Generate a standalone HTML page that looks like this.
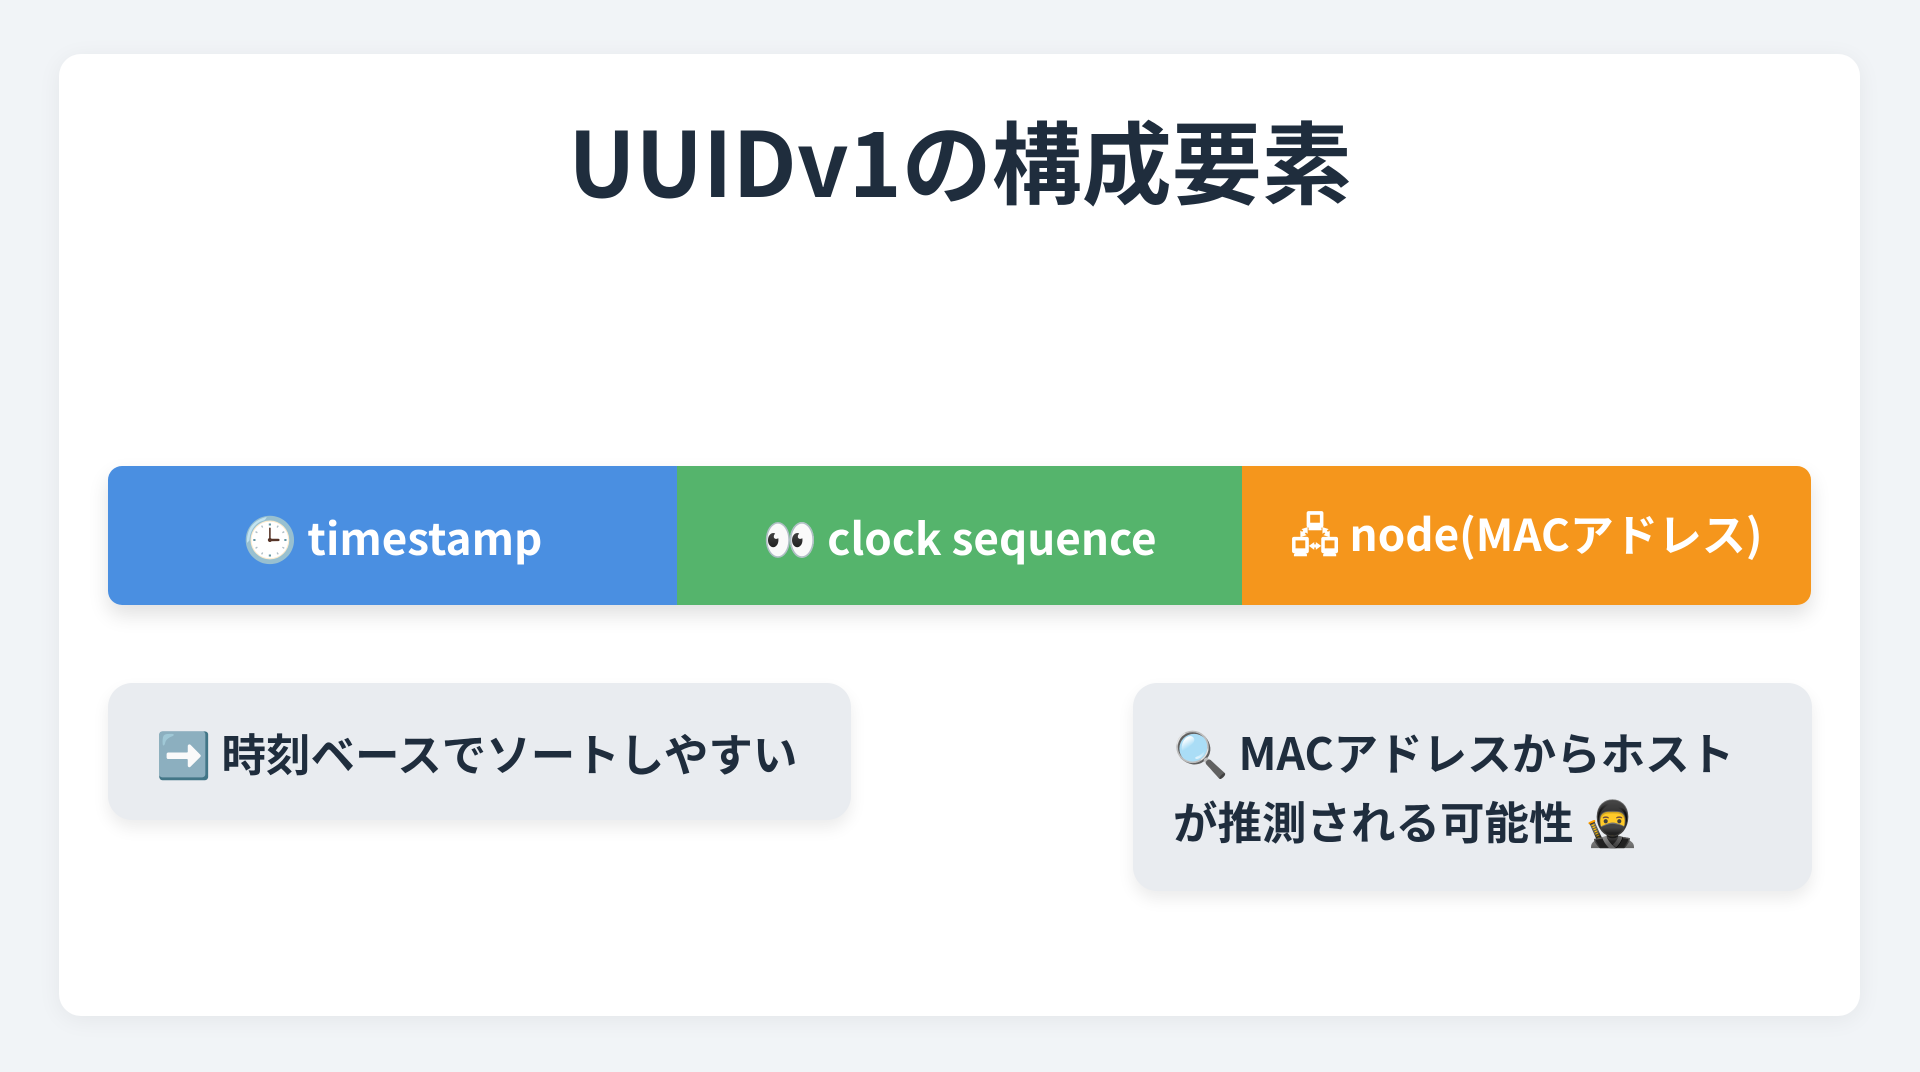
<!DOCTYPE html>
<html><head><meta charset="utf-8"><style>
body{margin:0;width:1920px;height:1072px;background:#f1f4f7;font-family:"Liberation Sans","Noto Sans CJK JP",sans-serif;position:relative;overflow:hidden}
.card{position:absolute;left:59px;top:54px;width:1801px;height:962px;background:#fff;border-radius:22px;box-shadow:0 4px 24px rgba(0,0,0,.06)}
h1{position:absolute;left:0;width:1920px;top:98px;margin:0;text-align:center;font-family:"Noto Sans CJK JP",sans-serif;font-weight:700;font-size:90px;line-height:120px;color:#1f2d3d}
.bar{position:absolute;left:108px;top:466px;width:1703px;height:139px;border-radius:14px;overflow:hidden;display:flex;box-shadow:0 10px 20px rgba(0,0,0,.12)}
.bar div{display:flex;align-items:center;justify-content:center;color:#fff;font-family:"Noto Sans CJK JP",sans-serif;font-weight:700;font-size:44px}
.box{position:absolute;background:#e9ecf0;border-radius:24px;box-shadow:0 8px 16px rgba(0,0,0,.08);font-family:"Noto Sans CJK JP",sans-serif;font-weight:700;font-size:44.5px;color:#1f2d3d;line-height:69px}
</style></head><body>
<div class="card"></div>
<h1>UUIDv1の構成要素</h1>
<div class="bar">
<div style="width:569px;background:#4a8fe1">🕒 timestamp</div>
<div style="width:565px;background:#55b46c">👀 clock sequence</div>
<div style="width:569px;background:#f5961c"><span style="position:relative;top:4px">🖧 node(MACアドレス)</span></div>
</div>
<div class="box" style="left:108px;top:683px;width:743px;height:137px"><div style="position:absolute;left:48px;top:34px">➡️ 時刻ベースでソートしやすい</div></div>
<div class="box" style="left:1133px;top:683px;width:679px;height:208px"><div style="position:absolute;left:40px;top:33px">🔍 MACアドレスからホスト<br>が推測される可能性 🥷</div></div>
</body></html>
